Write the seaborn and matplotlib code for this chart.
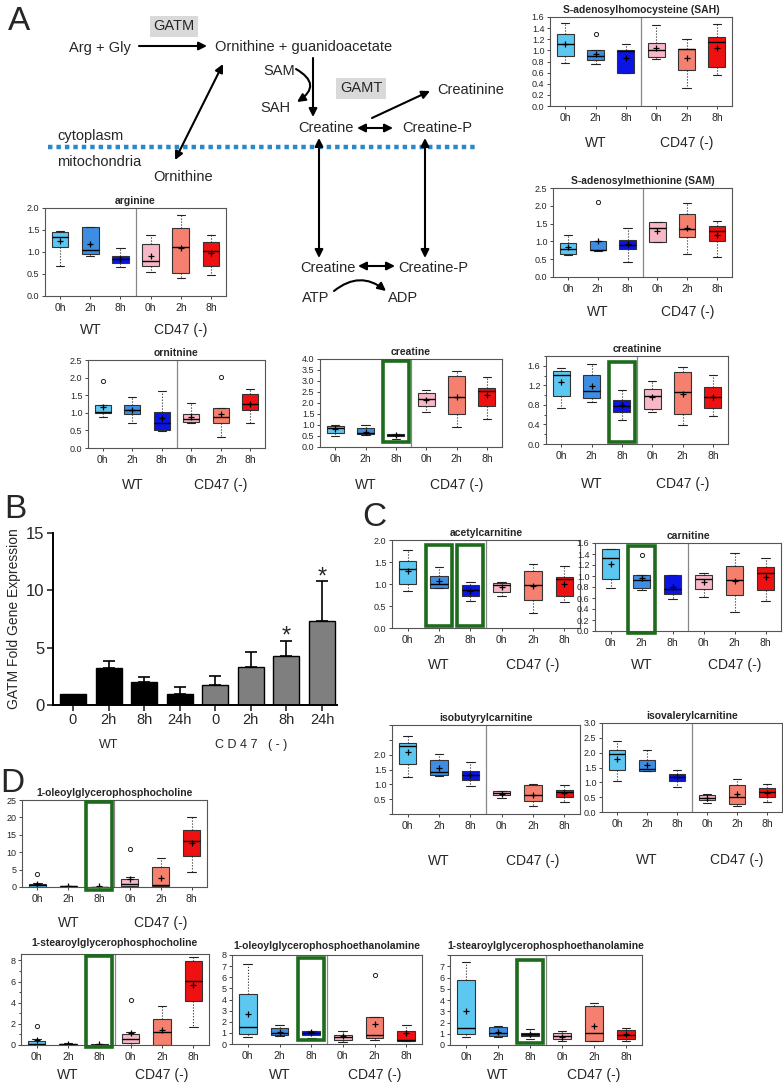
import numpy as np
import pandas as pd
import seaborn as sns
import matplotlib.pyplot as plt
from matplotlib.patches import Rectangle
from matplotlib.transforms import blended_transform_factory

W, H = 783, 1087

TIMEPOINTS = ["0h", "2h", "8h", "0h", "2h", "8h"]
GENOTYPES = ["WT", "CD47 (-)"]
BOX_COLORS = ["#5cc8f2", "#3d8de3", "#0a14e6", "#f8b7c6", "#f5806f", "#ee1111"]

# each row: (whisker low, q1, median, q3, whisker high, mean)
sah = [(0.78, 0.90, 1.11, 1.30, 1.49, 1.11), (0.75, 0.83, 0.90, 1.00, 1.00, 0.94),
       (0.59, 0.60, 0.98, 1.00, 1.11, 0.86), (0.85, 0.88, 1.00, 1.13, 1.46, 1.05),
       (0.33, 0.65, 1.02, 1.03, 1.20, 0.87), (0.56, 0.71, 1.15, 1.24, 1.47, 1.04)]
sah_out = [[], [1.29], [], [], [], []]

sam = [(0.63, 0.65, 0.80, 0.95, 1.18, 0.83), (0.72, 0.75, 0.77, 1.00, 1.00, 1.02),
       (0.42, 0.79, 0.90, 1.05, 1.38, 0.93), (0.97, 0.98, 1.38, 1.54, 1.54, 1.28),
       (0.65, 1.12, 1.34, 1.77, 2.08, 1.38), (0.56, 1.00, 1.29, 1.44, 1.56, 1.19)]
sam_out = [[], [2.10], [], [], [], []]

arginine = [(0.68, 1.12, 1.35, 1.45, 1.48, 1.24), (0.91, 0.95, 1.05, 1.57, 1.57, 1.18),
            (0.66, 0.75, 0.84, 0.92, 1.08, 0.84), (0.54, 0.69, 0.80, 1.19, 1.38, 0.90),
            (0.41, 0.53, 1.11, 1.55, 1.84, 1.10), (0.48, 0.69, 1.03, 1.23, 1.39, 0.98)]
arginine_out = [[], [], [], [], [], []]

ornitnine = [(0.88, 1.00, 1.02, 1.22, 1.22, 1.17), (0.71, 0.97, 1.08, 1.21, 1.44, 1.07),
             (0.47, 0.52, 0.72, 1.01, 1.63, 0.85), (0.72, 0.75, 0.83, 0.98, 1.28, 0.89),
             (0.30, 0.70, 0.88, 1.13, 1.13, 0.98), (0.70, 1.08, 1.24, 1.52, 1.68, 1.25)]
ornitnine_out = [[1.90], [], [], [], [2.03], []]

creatine = [(0.50, 0.65, 0.88, 0.95, 1.00, 0.80), (0.55, 0.60, 0.65, 0.85, 1.02, 0.70),
            (0.38, 0.50, 0.55, 0.60, 0.60, 0.55), (1.58, 1.88, 2.20, 2.45, 2.58, 2.15),
            (0.90, 1.52, 2.27, 3.22, 3.45, 2.25), (1.25, 1.85, 2.55, 2.70, 3.20, 2.35)]
creatine_out = [[], [], [], [], [], []]

creatinine = [(0.74, 0.99, 1.41, 1.49, 1.55, 1.27), (0.86, 0.95, 1.09, 1.42, 1.63, 1.18),
              (0.49, 0.65, 0.78, 0.91, 1.11, 0.80), (0.66, 0.72, 0.98, 1.12, 1.28, 0.96),
              (0.39, 0.62, 1.07, 1.47, 1.57, 1.02), (0.58, 0.73, 0.96, 1.16, 1.42, 0.97)]
creatinine_out = [[], [], [], [], [], []]

acetylcarnitine = [(0.83, 1.00, 1.35, 1.52, 1.77, 1.30), (0.90, 0.90, 1.00, 1.18, 1.38, 1.06),
                   (0.61, 0.73, 0.87, 0.97, 1.05, 0.85), (0.73, 0.82, 0.98, 1.02, 1.04, 0.93),
                   (0.34, 0.63, 0.97, 1.30, 1.45, 0.95), (0.58, 0.73, 1.12, 1.15, 1.40, 1.00)]
acetylcarnitine_out = [[], [], [], [], [], []]

carnitine = [(0.78, 0.95, 1.33, 1.50, 1.50, 1.22), (0.75, 0.79, 0.92, 1.01, 1.01, 0.96),
             (0.58, 0.67, 0.77, 1.01, 1.01, 0.80), (0.62, 0.77, 0.95, 1.02, 1.06, 0.90),
             (0.35, 0.65, 0.93, 1.18, 1.41, 0.91), (0.54, 0.75, 1.05, 1.17, 1.32, 0.98)]
carnitine_out = [[], [1.39], [], [], [], []]

isobutyrylcarnitine = [(1.24, 1.67, 2.28, 2.39, 2.63, 2.08), (1.28, 1.30, 1.41, 1.83, 2.03, 1.56),
                       (0.94, 1.14, 1.33, 1.44, 1.74, 1.32), (0.53, 0.63, 0.70, 0.78, 0.78, 0.66),
                       (0.28, 0.43, 0.64, 0.97, 1.02, 0.63), (0.39, 0.58, 0.73, 0.81, 0.99, 0.70)]
isobutyrylcarnitine_out = [[], [], [], [], [], []]

isovalerylcarnitine = [(1.06, 1.40, 1.95, 2.08, 2.38, 1.78), (1.39, 1.39, 1.46, 1.75, 2.08, 1.60),
                       (0.84, 1.06, 1.18, 1.29, 1.42, 1.17), (0.32, 0.39, 0.47, 0.56, 0.60, 0.46),
                       (0.19, 0.28, 0.52, 0.90, 1.12, 0.60), (0.33, 0.50, 0.66, 0.82, 0.95, 0.65)]
isovalerylcarnitine_out = [[], [], [], [], [], []]

oleoyl_pc = [(0.0, 0.1, 0.5, 0.9, 1.2, 0.8), (0.0, 0.05, 0.15, 0.25, 0.3, 0.2),
             (0.0, 0.0, 0.05, 0.1, 0.1, 0.2), (0.1, 0.4, 0.8, 2.3, 2.8, 2.4),
             (0.1, 0.3, 0.5, 5.7, 8.2, 2.5), (4.2, 8.8, 13.1, 16.5, 20.1, 12.7)]
oleoyl_pc_out = [[3.7], [], [], [10.8], [], []]

stearoyl_pc = [(0.0, 0.0, 0.05, 0.4, 0.6, 0.45), (0.0, 0.03, 0.08, 0.12, 0.15, 0.1),
               (0.0, 0.0, 0.04, 0.08, 0.08, 0.1), (0.0, 0.2, 0.55, 1.05, 1.2, 1.1),
               (0.0, 0.0, 1.2, 2.45, 3.65, 1.45), (1.7, 4.15, 6.05, 7.95, 8.35, 5.7)]
stearoyl_pc_out = [[1.8], [], [], [4.3], [], []]

oleoyl_pe = [(0.65, 0.9, 1.55, 4.5, 7.2, 2.7), (0.7, 0.85, 1.0, 1.4, 1.7, 1.1),
             (0.5, 0.85, 1.0, 1.2, 1.2, 1.05), (0.2, 0.35, 0.6, 0.85, 1.15, 0.7),
             (0.35, 0.55, 0.8, 2.45, 2.45, 1.8), (0.3, 0.3, 0.35, 1.15, 1.7, 1.0)]
oleoyl_pe_out = [[], [], [], [], [6.2], []]

stearoyl_pe = [(0.7, 1.0, 1.55, 5.8, 7.35, 3.0), (0.75, 0.8, 1.1, 1.6, 1.65, 1.2),
               (0.55, 0.8, 0.95, 1.1, 1.4, 0.95), (0.4, 0.55, 0.8, 1.05, 1.25, 0.7),
               (0.35, 0.4, 1.05, 3.5, 3.7, 1.65), (0.4, 0.5, 0.9, 1.3, 1.55, 1.0)]
stearoyl_pe_out = [[], [], [], [], [], []]

# panel B: GATM qPCR
gatm_labels = ["0", "2h", "8h", "24h", "0", "2h", "8h", "24h"]
gatm_keys = ["WT 0", "WT 2h", "WT 8h", "WT 24h", "KO 0", "KO 2h", "KO 8h", "KO 24h"]
gatm_mean = [1.0, 3.2, 2.0, 1.0, 1.75, 3.3, 4.3, 7.3]
gatm_err = [0.0, 0.65, 0.45, 0.55, 0.8, 1.3, 1.3, 3.5]
gatm_star = [False, False, False, False, False, False, True, True]

sns.set_style("white")
plt.rcParams["font.family"] = ["Liberation Sans", "DejaVu Sans"]

fig = plt.figure(figsize=(W / 100, H / 100), dpi=100)


def px_rect(l, t, r, b):
    return [l / W, 1 - b / H, (r - l) / W, (b - t) / H]


# ---------- pathway diagram (pixel coordinates) ----------
diag = fig.add_axes([0, 0, 1, 1])
diag.set_xlim(0, W)
diag.set_ylim(H, 0)
diag.axis("off")

txt = dict(fontsize=10.5, va="center", ha="left")
diag.text(174, 26, "GATM", ha="center", va="center", fontsize=10.5,
          bbox=dict(facecolor="#d9d9d9", edgecolor="none", pad=2.5))
diag.text(361, 88, "GAMT", ha="center", va="center", fontsize=10.5,
          bbox=dict(facecolor="#d9d9d9", edgecolor="none", pad=2.5))
diag.text(69, 48, "Arg + Gly", **txt)
diag.text(215, 47, "Ornithine + guanidoacetate", **txt)
diag.text(263, 71, "SAM", **txt)
diag.text(260, 108, "SAH", **txt)
diag.text(437, 90, "Creatinine", **txt)
diag.text(298, 128, "Creatine", **txt)
diag.text(402, 128, "Creatine-P", **txt)
diag.text(57, 136, "cytoplasm", **txt)
diag.text(57, 162, "mitochondria", **txt)
diag.text(153, 177, "Ornithine", **txt)
diag.text(300, 268, "Creatine", **txt)
diag.text(398, 268, "Creatine-P", **txt)
diag.text(302, 298, "ATP", **txt)
diag.text(388, 298, "ADP", **txt)

one = dict(arrowstyle="-|>", lw=1.5, color="black", mutation_scale=12, shrinkA=0, shrinkB=0)
two = dict(arrowstyle="<|-|>", lw=1.5, color="black", mutation_scale=12, shrinkA=0, shrinkB=0)
diag.annotate("", xy=(207, 46), xytext=(139, 46), arrowprops=one)
diag.annotate("", xy=(313, 117), xytext=(313, 58), arrowprops=one)
diag.annotate("", xy=(297, 102), xytext=(296, 69),
              arrowprops=dict(one, connectionstyle="arc3,rad=-0.8"))
diag.annotate("", xy=(430, 91), xytext=(372, 118), arrowprops=one)
diag.annotate("", xy=(393, 128), xytext=(357, 128), arrowprops=two)
diag.annotate("", xy=(175, 160), xytext=(223, 64), arrowprops=two)
diag.annotate("", xy=(319, 258), xytext=(319, 138), arrowprops=two)
diag.annotate("", xy=(425, 258), xytext=(425, 138), arrowprops=two)
diag.annotate("", xy=(395, 266), xytext=(358, 266), arrowprops=two)
diag.annotate("", xy=(386, 291), xytext=(334, 291),
              arrowprops=dict(one, connectionstyle="arc3,rad=-0.4"))
diag.plot([48, 478], [147, 147], color="#2a88c8", lw=3.2, linestyle=(0, (1, 0.9)))

for letter, x, y in [("A", 8, 22), ("B", 4, 510), ("C", 362, 517), ("D", 0, 783)]:
    diag.text(x, y, letter, fontsize=24, ha="left", va="center")


# ---------- box panels ----------
def box_panel(rect, title, stats, outliers, ylim, yticks, ylabels=None, label_off=36,
              green=(), green_y=(0.0, 0.95), minor=None, title_pad=3):
    ax = fig.add_axes(px_rect(*rect))
    bstats = []
    for (lo, q1, med, q3, hi, mean), fl in zip(stats, outliers):
        bstats.append(dict(whislo=lo, q1=q1, med=med, q3=q3, whishi=hi, mean=mean, fliers=fl))
    pos = np.arange(1, 7)
    art = ax.bxp(bstats, positions=pos, widths=0.55, patch_artist=True, showmeans=True,
                 manage_ticks=False,
                 boxprops=dict(edgecolor="#333333", linewidth=0.8),
                 medianprops=dict(color="black", linewidth=1.0),
                 whiskerprops=dict(color="#222222", linewidth=0.8, linestyle=":"),
                 capprops=dict(color="#222222", linewidth=0.8),
                 meanprops=dict(marker="+", markeredgecolor="black", markersize=5,
                                markeredgewidth=0.9),
                 flierprops=dict(marker="o", markersize=3, markerfacecolor="none",
                                 markeredgecolor="#222222", markeredgewidth=0.7))
    for patch, c in zip(art["boxes"], BOX_COLORS):
        patch.set_facecolor(c)
    ax.axvline(3.5, color="#888888", lw=0.9)
    ax.set_xlim(0.5, 6.5)
    ax.set_ylim(*ylim)
    ax.set_yticks(yticks)
    if ylabels is None:
        ylabels = [f"{v:.1f}" for v in yticks]
    ax.set_yticklabels(ylabels, fontsize=6.5)
    if minor is not None:
        ax.set_yticks(minor, minor=True)
    ax.set_xticks(pos)
    ax.set_xticklabels(TIMEPOINTS, fontsize=7.5)
    ax.tick_params(axis="y", which="both", left=True, length=2.5, width=0.6, pad=1.5)
    ax.tick_params(axis="y", which="minor", length=1.5)
    ax.tick_params(axis="x", bottom=True, length=2, width=0.6, pad=3)
    for sp in ax.spines.values():
        sp.set_color("#555555")
        sp.set_linewidth(0.8)
    ax.set_title(title, pad=title_pad, fontsize=7.5, fontweight="bold")
    for gx, g in zip([2, 5], GENOTYPES):
        ax.annotate(g, xy=(gx, 0), xycoords=("data", "axes fraction"),
                    xytext=(0, -label_off), textcoords="offset pixels",
                    ha="center", va="center", fontsize=10)
    tr = blended_transform_factory(ax.transData, ax.transAxes)
    for p in green:
        ax.add_patch(Rectangle((p - 0.42, green_y[0]), 0.84, green_y[1] - green_y[0],
                               transform=tr, fill=False, edgecolor="#1e6b1e", lw=2.6,
                               clip_on=False, zorder=5))
    return ax


box_panel((550, 17, 732, 106), "S-adenosylhomocysteine (SAH)", sah, sah_out,
          (0, 1.6), np.arange(0, 1.61, 0.2), label_off=37)
box_panel((553, 188, 732, 277), "S-adenosylmethionine (SAM)", sam, sam_out,
          (0, 2.5), np.arange(0, 2.51, 0.5), label_off=35)
box_panel((45, 208, 226, 296), "arginine", arginine, arginine_out,
          (0, 2.0), np.arange(0, 2.01, 0.5), label_off=34)
box_panel((88, 360, 265, 448), "ornitnine", ornitnine, ornitnine_out,
          (0, 2.5), np.arange(0, 2.51, 0.5), label_off=37)
box_panel((320, 359, 502, 447), "creatine", creatine, creatine_out,
          (0, 4.0), np.arange(0, 4.01, 0.5), label_off=38, green=[3], green_y=(0.06, 0.98))
box_panel((546, 356, 728, 444), "creatinine", creatinine, creatinine_out,
          (0, 1.8), np.arange(0, 1.61, 0.4), minor=np.arange(0, 1.81, 0.2),
          label_off=40, green=[3], green_y=(0.02, 0.93))
box_panel((392, 540, 580, 628), "acetylcarnitine", acetylcarnitine, acetylcarnitine_out,
          (0, 2.0), np.arange(0, 2.01, 0.5), label_off=37, green=[2, 3], green_y=(0.02, 0.94))
box_panel((595, 543, 781, 631), "carnitine", carnitine, carnitine_out,
          (0, 1.6), np.arange(0, 1.61, 0.2), label_off=34, green=[2], green_y=(-0.02, 0.97))
box_panel((392, 725, 580, 814), "isobutyrylcarnitine", isobutyrylcarnitine,
          isobutyrylcarnitine_out, (0, 3.0), np.arange(0, 3.01, 0.5),
          ylabels=["", "0.5", "1.0", "1.5", "2.0", "", ""], label_off=47)
box_panel((602, 723, 782, 812), "isovalerylcarnitine", isovalerylcarnitine,
          isovalerylcarnitine_out, (0, 3.0), np.arange(0, 3.01, 0.5), label_off=48)
box_panel((22, 800, 207, 887), "1-oleoylglycerophosphocholine", oleoyl_pc, oleoyl_pc_out,
          (0, 25), np.arange(0, 26, 5), ylabels=[str(v) for v in range(0, 26, 5)],
          label_off=36, green=[3], green_y=(-0.03, 0.98))
box_panel((21, 954, 209, 1045), "1-stearoylglycerophosphocholine", stearoyl_pc,
          stearoyl_pc_out, (0, 8.6), np.arange(0, 9, 2), ylabels=[str(v) for v in range(0, 9, 2)],
          minor=np.arange(0, 9, 1), label_off=30, green=[3], green_y=(-0.02, 0.98),
          title_pad=6)
box_panel((232, 955, 422, 1044), "1-oleoylglycerophosphoethanolamine", oleoyl_pe,
          oleoyl_pe_out, (0, 8), np.arange(0, 9, 1),
          ylabels=[str(v) for v in range(0, 9)], label_off=31, green=[3],
          green_y=(0.04, 0.97), title_pad=4)
box_panel((450, 955, 642, 1045), "1-stearoylglycerophosphoethanolamine",
          stearoyl_pe, stearoyl_pe_out, (0, 8), np.arange(0, 9, 1),
          ylabels=[str(v) for v in range(0, 8)] + [""], label_off=30, green=[3],
          green_y=(0.02, 0.94), title_pad=4)

# ---------- panel B: GATM bars ----------
ax_b = fig.add_axes(px_rect(53, 533, 337, 705))
df_b = pd.DataFrame({"key": gatm_keys, "value": gatm_mean})
bar_colors = ["black"] * 4 + ["#7f7f7f"] * 4
sns.barplot(data=df_b, x="key", y="value", hue="key", palette=bar_colors, legend=False,
            width=0.73, edgecolor="black", linewidth=1.0, errorbar=None, ax=ax_b)
xs = np.arange(len(gatm_mean))
has_err = np.array(gatm_err) > 0
ax_b.errorbar(xs[has_err], np.array(gatm_mean)[has_err],
              yerr=[np.zeros(has_err.sum()), np.array(gatm_err)[has_err]],
              fmt="none", ecolor="black", elinewidth=1.2, capsize=4.5, capthick=1.2)
for i, s in enumerate(gatm_star):
    if s:
        ax_b.text(i, gatm_mean[i] + gatm_err[i] - 0.6, "*", ha="center", va="bottom",
                  fontsize=17)
ax_b.set_xlim(-0.56, 7.42)
ax_b.set_ylim(0, 15)
ax_b.set_yticks([0, 5, 10, 15])
ax_b.set_yticklabels(["0", "5", "10", "15"], fontsize=12)
ax_b.set_xticks(xs)
ax_b.set_xticklabels(gatm_labels, fontsize=10.5)
ax_b.set_xlabel("")
ax_b.set_ylabel("GATM Fold Gene Expression", fontsize=10, labelpad=4)
ax_b.tick_params(axis="both", length=4, width=1.2, left=True, bottom=True, pad=2)
sns.despine(ax=ax_b)
for sp in ["left", "bottom"]:
    ax_b.spines[sp].set_color("black")
    ax_b.spines[sp].set_linewidth(1.4)
ax_b.annotate("WT", xy=(1.0, 0), xycoords=("data", "axes fraction"), xytext=(0, -40),
              textcoords="offset pixels", ha="center", va="center", fontsize=9)
ax_b.annotate("C D 4 7   ( - )", xy=(5.0, 0), xycoords=("data", "axes fraction"),
              xytext=(0, -40), textcoords="offset pixels", ha="center", va="center",
              fontsize=9)

fig.savefig("out.png", dpi=100)
